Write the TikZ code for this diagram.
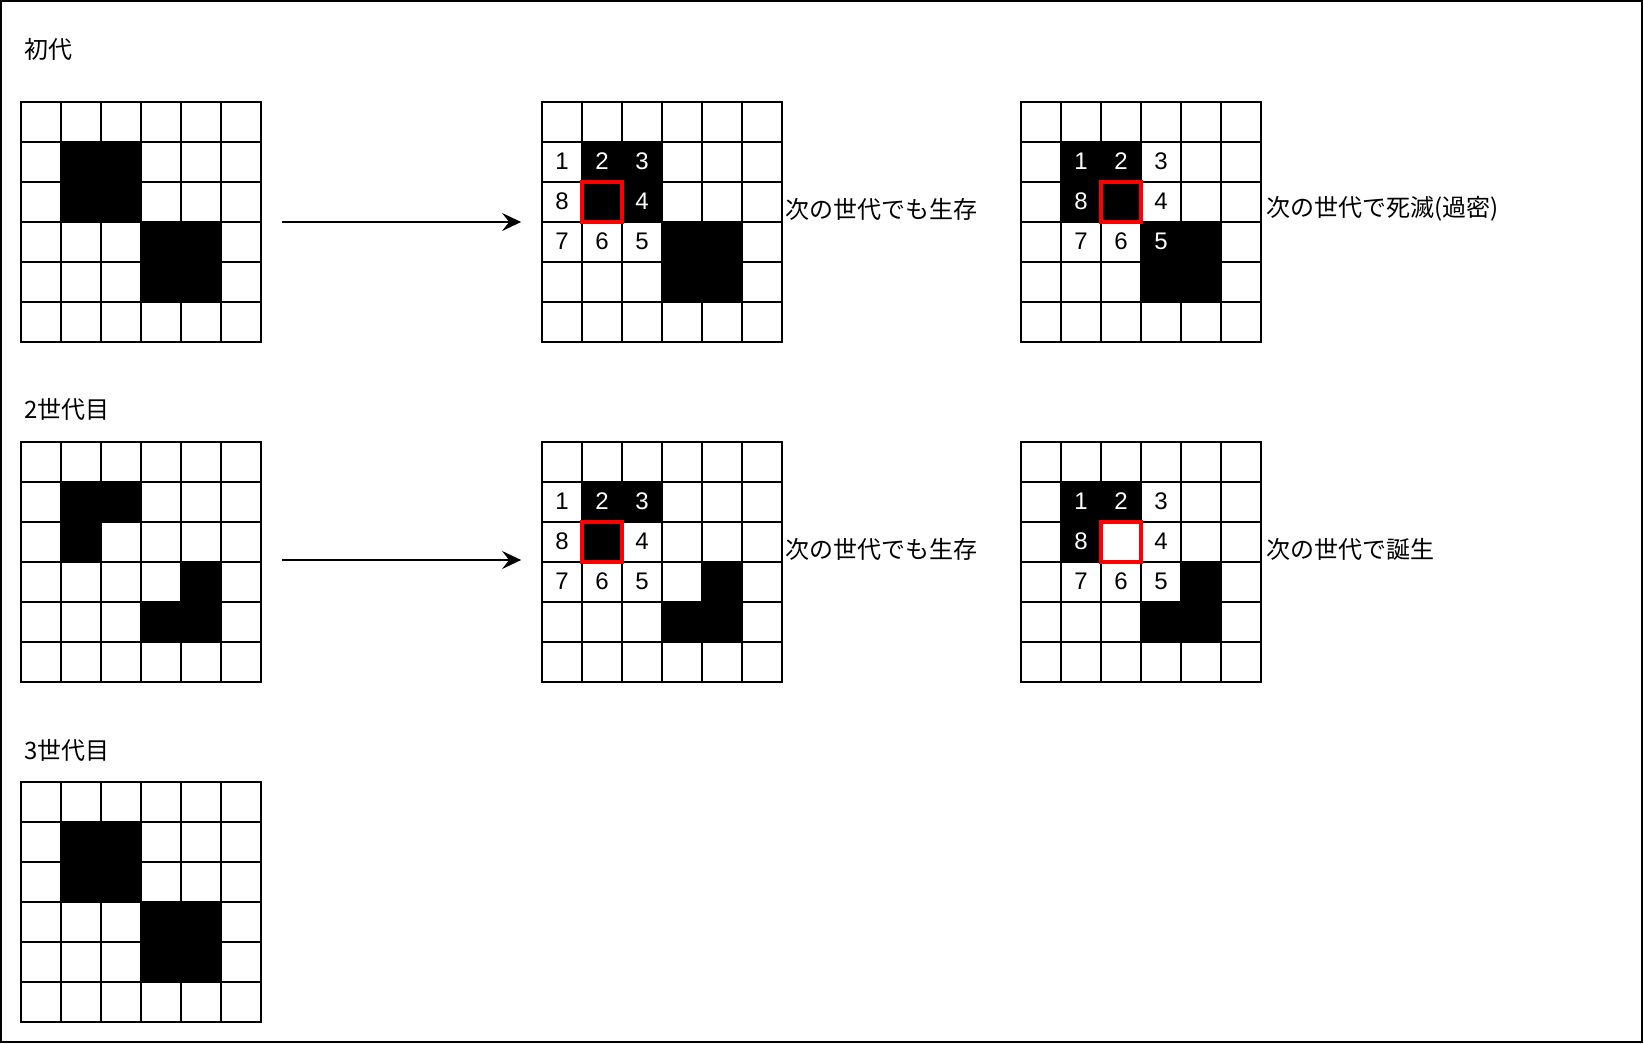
\documentclass[tikz,border=0pt]{standalone}
\usepackage{fontspec}
\setmainfont{Liberation Sans}
\newfontfamily\jpfont{Noto Sans CJK JP}
\usetikzlibrary{arrows.meta}
\tikzset{
  gridbox/.style={draw=black, line width=0.9pt, minimum size=120pt, inner sep=0pt},
  gridline/.style={draw=black, line width=0.9pt},
  cellnum/.style={font=\fontsize{12pt}{14pt}\selectfont, inner sep=0pt},
  redbox/.style={draw={rgb,255:red,255;green,0;blue,0}, line width=1.6pt, minimum size=20pt, inner sep=0pt},
  jplabel/.style={font=\jpfont\fontsize{12pt}{14pt}\selectfont, inner sep=0pt, anchor=west},
  flowarrow/.style={draw=black, line width=0.8pt, -{Stealth[length=9.5pt,width=9pt,inset=3.5pt]}, shorten <=10pt, shorten >=10pt},
  frame/.style={draw=black, line width=1pt}
}
\newcommand\lifegrid[4]{%
  \begin{scope}[shift={#2}]
    \foreach \r/\c in {#3} {\fill[black] (\c*40,\r*40) rectangle ++(40,40);}
    \foreach \i in {40,80,...,200} {\draw[gridline] (\i,0) -- (\i,240); \draw[gridline] (0,\i) -- (240,\i);}
    \node[gridbox] (#1) at (120,120) {};
    #4
  \end{scope}}
\newcommand\cellnums[2]{%
  \foreach \n/\r/\c/\col in {#2} {\node[cellnum, text=\col] (#1-\n) at (\c*40+20,\r*40+19) {\n};}}
\begin{document}
\begin{tikzpicture}[x=0.5pt,y=-0.5pt]
  \useasboundingbox (0,0) rectangle (1644,1044);
  \draw[frame] (1,1) rectangle (1642,1042);

  \node[jplabel] (l1) at (24,49) {初代};
  \node[jplabel] (l2) at (24,409) {2世代目};
  \node[jplabel] (l3) at (24,750) {3世代目};

  % row 1
  \lifegrid{A1}{(21,102)}{1/1,1/2,2/1,2/2,3/3,3/4,4/3,4/4}{}
  \lifegrid{B1}{(542,102)}{1/1,1/2,2/1,2/2,3/3,3/4,4/3,4/4}{%
    \cellnums{B1}{1/1/0/black,2/1/1/white,3/1/2/white,4/2/2/white,5/3/2/black,6/3/1/black,7/3/0/black,8/2/0/black}
    \node[redbox] (B1-c) at (60,100) {};}
  \lifegrid{C1}{(1021,102)}{1/1,1/2,2/1,2/2,3/3,3/4,4/3,4/4}{%
    \cellnums{C1}{1/1/1/white,2/1/2/white,3/1/3/black,4/2/3/black,5/3/3/white,6/3/2/black,7/3/1/black,8/2/1/white}
    \node[redbox] (C1-c) at (100,100) {};}
  \draw[flowarrow] (A1) -- (B1);
  \node[jplabel] (t1) at (785,209) {次の世代でも生存};
  \node[jplabel] (t2) at (1266,209) {次の世代で死滅(過密)};

  % row 2
  \lifegrid{A2}{(21,442)}{1/1,1/2,2/1,3/4,4/3,4/4}{}
  \lifegrid{B2}{(542,442)}{1/1,1/2,2/1,3/4,4/3,4/4}{%
    \cellnums{B2}{1/1/0/black,2/1/1/white,3/1/2/white,4/2/2/black,5/3/2/black,6/3/1/black,7/3/0/black,8/2/0/black}
    \node[redbox] (B2-c) at (60,100) {};}
  \lifegrid{C2}{(1021,442)}{1/1,1/2,2/1,3/4,4/3,4/4}{%
    \cellnums{C2}{1/1/1/white,2/1/2/white,3/1/3/black,4/2/3/black,5/3/3/black,6/3/2/black,7/3/1/black,8/2/1/white}
    \node[redbox] (C2-c) at (100,100) {};}
  \draw[flowarrow] ([yshift=1pt]A2.east) -- ([yshift=1pt]B2.west);
  \node[jplabel] (t3) at (785,549) {次の世代でも生存};
  \node[jplabel] (t4) at (1266,549) {次の世代で誕生};

  % row 3
  \lifegrid{A3}{(21,782)}{1/1,1/2,2/1,2/2,3/3,3/4,4/3,4/4}{}
\end{tikzpicture}
\end{document}
